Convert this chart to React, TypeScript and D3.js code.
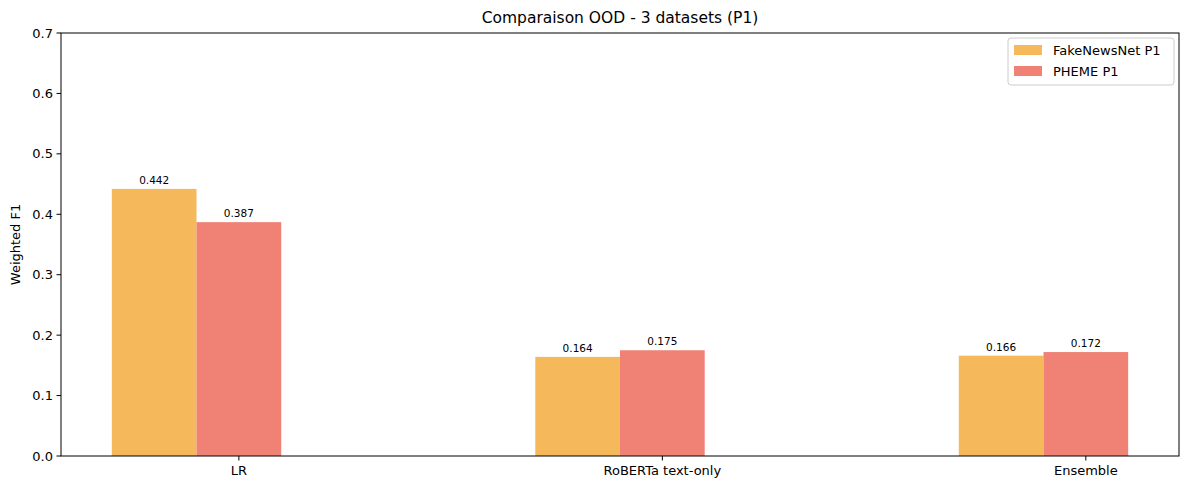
import React from "react";
import * as d3 from "d3";

const categories = ["LR", "RoBERTa text-only", "Ensemble"];
const seriesNames = ["FakeNewsNet P1", "PHEME P1"];
const fakeNewsNet = [0.442, 0.164, 0.166];
const pheme = [0.387, 0.175, 0.172];
const seriesColors = ["#F5B85A", "#EF8275"];
const yTicks = [0, 0.1, 0.2, 0.3, 0.4, 0.5, 0.6, 0.7];
const barOffsets = [-0.2, 0];
const barWidth = 0.2;

const W = 1189;
const H = 490;
const M = { left: 61, right: 1179, top: 33, bottom: 456 };

export default function App() {
  const x = d3.scaleLinear().domain([-0.42, 2.22]).range([M.left, M.right]);
  const y = d3.scaleLinear().domain([0, 0.7]).range([M.bottom, M.top]);
  const series = [fakeNewsNet, pheme];
  const font = "DejaVu Sans, sans-serif";
  const bw = x(barWidth) - x(0);
  return (
    <svg width={W} height={H} style={{ position: "absolute", left: 0, top: 0 }} fontFamily={font}>
      <rect x={0} y={0} width={W} height={H} fill="#fff" />
      {series.map((vals, si) =>
        vals.map((v, ci) => {
          const cx = x(ci + barOffsets[si]);
          return (
            <g key={`${si}-${ci}`}>
              <rect x={cx - bw / 2} y={y(v)} width={bw} height={y(0) - y(v)} fill={seriesColors[si]} />
              <text x={cx} y={y(v) - 5} fontSize={10.5} textAnchor="middle" fill="#000">
                {v.toFixed(3)}
              </text>
            </g>
          );
        })
      )}
      <rect x={M.left} y={M.top} width={M.right - M.left} height={M.bottom - M.top} fill="none" stroke="#000" strokeWidth={1} />
      {yTicks.map((t) => (
        <g key={t}>
          <line x1={M.left - 4.5} x2={M.left} y1={y(t)} y2={y(t)} stroke="#000" />
          <text x={M.left - 8} y={y(t)} dy="0.35em" fontSize={13} textAnchor="end">
            {t.toFixed(1)}
          </text>
        </g>
      ))}
      {categories.map((c, i) => (
        <g key={c}>
          <line x1={x(i)} x2={x(i)} y1={M.bottom} y2={M.bottom + 4.5} stroke="#000" />
          <text x={x(i)} y={M.bottom + 19} fontSize={13} textAnchor="middle">
            {c}
          </text>
        </g>
      ))}
      <text x={(M.left + M.right) / 2} y={23} fontSize={15.5} textAnchor="middle">
        Comparaison OOD - 3 datasets (P1)
      </text>
      <text transform={`translate(20,${(M.top + M.bottom) / 2}) rotate(-90)`} fontSize={13} textAnchor="middle">
        Weighted F1
      </text>
      <g>
        <rect x={1008} y={38} width={166} height={47} rx={3} fill="#fff" fillOpacity={0.8} stroke="#ccc" />
        {seriesNames.map((n, i) => (
          <g key={n}>
            <rect x={1014} y={45 + i * 21} width={28} height={10} fill={seriesColors[i]} />
            <text x={1053} y={50 + i * 21} dy="0.35em" fontSize={13}>
              {n}
            </text>
          </g>
        ))}
      </g>
    </svg>
  );
}
